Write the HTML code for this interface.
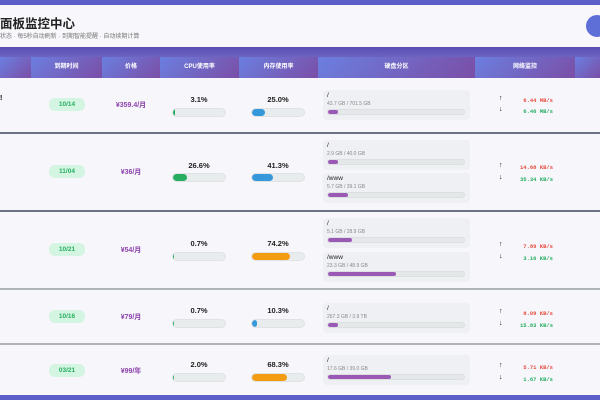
<!DOCTYPE html><html><head><meta charset="utf-8"><style>
*{margin:0;padding:0;box-sizing:border-box}
body{width:600px;height:400px;overflow:hidden;background:#f6f6fb;font-family:"Liberation Sans","Noto Sans CJK SC",sans-serif;position:relative}
div{position:absolute}
.th{top:57px;height:21px;color:#fff;font-size:6px;font-weight:bold;text-align:center;line-height:21px;background:linear-gradient(135deg,#6b7fe0,#7a4ea6)}
.sep{left:0;width:600px;height:2px;background:#6b7380}
.badge{width:36px;height:13px;border-radius:6px;background:#d4f5e2;color:#27ae60;font-size:6.5px;font-weight:bold;text-align:center;line-height:13px}
.price{width:60px;text-align:center;color:#8e44ad;font-size:7px;font-weight:bold}
.pct{width:60px;text-align:center;font-size:7.5px;font-weight:bold;color:#222}
.trk{height:9px;width:54px;border-radius:5px;background:#e9eced;border:1px solid #e0e3e5;overflow:hidden}
.trk i{display:block;height:100%;border-radius:5px}
.disk{left:323px;width:147px;height:30px;background:#eff0f3;border-radius:4px}
.disk b{position:absolute;left:4px;top:2px;font-size:6.5px;font-weight:normal;color:#222}
.disk s{position:absolute;left:4px;top:11px;font-size:5px;color:#888;text-decoration:none}
.disk u{position:absolute;left:4px;top:19px;width:138px;height:6px;border-radius:3px;background:#e5e8e8;border:1px solid #dcdfe0;overflow:hidden}
.disk u i{display:block;height:100%;background:#9b59b6;border-radius:3px}
.ar{left:499px;font-size:7px;color:#111;font-weight:bold}
.up,.dn{left:505px;width:48px;text-align:right;font-family:"Liberation Mono",monospace;font-size:5.5px;font-weight:bold}
.up{color:#e74c3c}.dn{color:#27ae60}
</style></head><body>
<div style="left:0;top:0;width:600px;height:5px;background:#5b5fc7"></div>
<div style="left:0;top:6px;width:600px;height:40px;background:#f8f8fc"></div>
<div style="left:0;top:13px;font-size:12.5px;font-weight:bold;color:#222">面板监控中心</div>
<div style="left:0;top:31px;font-size:6px;color:#777">状态 · 每5秒自动刷新 · 到期智能提醒 · 自动续期计算</div>
<div style="left:586px;top:15px;width:22px;height:22px;border-radius:50%;background:#5e6fd8"></div>
<div style="left:0;top:47px;width:600px;height:10px;background:linear-gradient(#5a4fb5,#6d63c0)"></div>
<div class="th" style="left:0;width:31px"></div>
<div class="th" style="left:31px;width:71px">到期时间</div>
<div class="th" style="left:102px;width:58px">价格</div>
<div class="th" style="left:160px;width:79px">CPU使用率</div>
<div class="th" style="left:239px;width:79px">内存使用率</div>
<div class="th" style="left:318px;width:157px">硬盘分区</div>
<div class="th" style="left:475px;width:100px">网络监控</div>
<div class="th" style="left:575px;width:25px"></div>

<div class="sep" style="top:132px"></div><div class="sep" style="top:210px"></div>
<div class="sep" style="top:288px;background:#b0b3b8"></div><div class="sep" style="top:343px;background:#b0b3b8"></div>
<div style="left:0;top:395px;width:600px;height:5px;background:#5b5fc7"></div>

<!-- row1 -->
<div style="left:0;top:95px;font-size:7px;font-weight:bold">!</div>
<div class="badge" style="left:49px;top:98px">10/14</div>
<div class="price" style="left:101px;top:100px">¥359.4/月</div>
<div class="pct" style="left:169px;top:95px">3.1%</div>
<div class="trk" style="left:172px;top:108px"><i style="width:3%;background:#27ae60"></i></div>
<div class="pct" style="left:248px;top:95px">25.0%</div>
<div class="trk" style="left:251px;top:108px"><i style="width:25%;background:#3498db"></i></div>
<div class="disk" style="top:90px"><b>/</b><s>43.7 GB / 701.5 GB</s><u><i style="width:7%"></i></u></div>
<div class="ar" style="top:95px">↑</div><div class="up" style="top:97px">6.44 MB/s</div>
<div class="ar" style="top:106px">↓</div><div class="dn" style="top:108px">6.46 MB/s</div>

<!-- row2 -->
<div class="badge" style="left:49px;top:165px">11/04</div>
<div class="price" style="left:101px;top:167px">¥36/月</div>
<div class="pct" style="left:169px;top:161px">26.6%</div>
<div class="trk" style="left:172px;top:173px"><i style="width:27%;background:#27ae60"></i></div>
<div class="pct" style="left:248px;top:161px">41.3%</div>
<div class="trk" style="left:251px;top:173px"><i style="width:41%;background:#3498db"></i></div>
<div class="disk" style="top:140px"><b>/</b><s>2.9 GB / 40.0 GB</s><u><i style="width:7%"></i></u></div>
<div class="disk" style="top:173px"><b>/www</b><s>5.7 GB / 39.1 GB</s><u><i style="width:15%"></i></u></div>
<div class="ar" style="top:162px">↑</div><div class="up" style="top:164px">14.68 KB/s</div>
<div class="ar" style="top:174px">↓</div><div class="dn" style="top:176px">35.34 KB/s</div>

<!-- row3 -->
<div class="badge" style="left:49px;top:243px">10/21</div>
<div class="price" style="left:101px;top:245px">¥54/月</div>
<div class="pct" style="left:169px;top:239px">0.7%</div>
<div class="trk" style="left:172px;top:252px"><i style="width:1%;background:#27ae60"></i></div>
<div class="pct" style="left:248px;top:239px">74.2%</div>
<div class="trk" style="left:251px;top:252px"><i style="width:74%;background:#f39c12"></i></div>
<div class="disk" style="top:218px"><b>/</b><s>5.1 GB / 28.9 GB</s><u><i style="width:18%"></i></u></div>
<div class="disk" style="top:252px"><b>/www</b><s>23.3 GB / 48.9 GB</s><u><i style="width:50%"></i></u></div>
<div class="ar" style="top:241px">↑</div><div class="up" style="top:243px">7.89 KB/s</div>
<div class="ar" style="top:253px">↓</div><div class="dn" style="top:255px">3.10 KB/s</div>

<!-- row4 -->
<div class="badge" style="left:49px;top:310px">10/16</div>
<div class="price" style="left:101px;top:312px">¥79/月</div>
<div class="pct" style="left:169px;top:306px">0.7%</div>
<div class="trk" style="left:172px;top:319px"><i style="width:1%;background:#27ae60"></i></div>
<div class="pct" style="left:248px;top:306px">10.3%</div>
<div class="trk" style="left:251px;top:319px"><i style="width:10%;background:#3498db"></i></div>
<div class="disk" style="top:303px"><b>/</b><s>267.3 GB / 3.9 TB</s><u><i style="width:7%"></i></u></div>
<div class="ar" style="top:308px">↑</div><div class="up" style="top:310px">8.09 KB/s</div>
<div class="ar" style="top:320px">↓</div><div class="dn" style="top:322px">15.83 KB/s</div>

<!-- row5 -->
<div class="badge" style="left:49px;top:364px">03/21</div>
<div class="price" style="left:101px;top:366px">¥99/年</div>
<div class="pct" style="left:169px;top:360px">2.0%</div>
<div class="trk" style="left:172px;top:373px"><i style="width:2%;background:#27ae60"></i></div>
<div class="pct" style="left:248px;top:360px">68.3%</div>
<div class="trk" style="left:251px;top:373px"><i style="width:68%;background:#f39c12"></i></div>
<div class="disk" style="top:355px"><b>/</b><s>17.6 GB / 39.0 GB</s><u><i style="width:46%"></i></u></div>
<div class="ar" style="top:362px">↑</div><div class="up" style="top:364px">5.71 KB/s</div>
<div class="ar" style="top:374px">↓</div><div class="dn" style="top:376px">1.67 KB/s</div>
</body></html>
